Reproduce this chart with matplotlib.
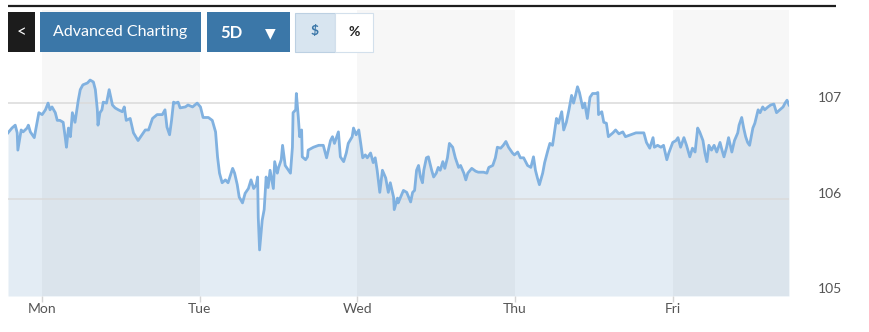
import matplotlib
matplotlib.use('Agg')
import matplotlib.pyplot as plt
from matplotlib.patches import Rectangle

plt.rcParams['font.family'] = ['Lato', 'DejaVu Sans']

# (hours since Monday 00:00, index value), one list per day
sun_mon = [(-5.2, 106.69), (-4.6, 106.74), (-4.1, 106.77), (-3.8, 106.69), (-3.7, 106.51),
           (-3.2, 106.72), (-2.9, 106.70), (-2.3, 106.74), (-2.1, 106.77), (-1.8, 106.70),
           (-1.2, 106.64), (-0.5, 106.90), (0.0, 106.88), (0.5, 106.93), (0.9, 107.00),
           (1.2, 106.93), (1.5, 106.96), (2.0, 106.90), (2.3, 106.82), (2.7, 106.82),
           (3.2, 106.80), (3.5, 106.65), (3.7, 106.54), (4.0, 106.74), (4.3, 106.65),
           (4.6, 106.90), (5.0, 106.80), (5.5, 107.03), (5.8, 107.14), (6.2, 107.19),
           (6.9, 107.21), (7.3, 107.24), (7.8, 107.22), (8.1, 107.14), (8.4, 106.93),
           (8.5, 106.77), (8.8, 106.90), (9.1, 106.93), (9.3, 107.01), (9.8, 107.00),
           (10.2, 107.14), (10.7, 106.98), (11.1, 106.95), (11.6, 106.93), (12.2, 106.91),
           (12.5, 106.96), (12.8, 106.82), (13.4, 106.84), (13.9, 106.69), (14.6, 106.61),
           (15.2, 106.67), (15.7, 106.72), (16.2, 106.72), (16.8, 106.84), (17.5, 106.88),
           (18.3, 106.88), (18.7, 106.93), (19.0, 106.75), (19.4, 106.67), (19.7, 106.82),
           (20.0, 107.01), (20.3, 107.00), (20.7, 107.01), (21.0, 106.95), (21.8, 106.96),
           (22.2, 106.98), (22.9, 106.96), (23.6, 107.00)]

tue = [(24.1, 106.96), (24.5, 106.85), (25.3, 106.85), (25.9, 106.82), (26.4, 106.70),
       (26.7, 106.44), (27.0, 106.27), (27.4, 106.17), (27.9, 106.20), (28.3, 106.17),
       (29.0, 106.32), (29.3, 106.27), (29.7, 106.15), (30.0, 106.02), (30.5, 105.96),
       (30.9, 106.06), (31.4, 106.11), (31.8, 106.20), (32.2, 106.11), (32.6, 106.15),
       (32.8, 106.23), (32.9, 105.81), (33.1, 105.47), (33.5, 105.78), (33.8, 105.89),
       (34.1, 106.23), (34.4, 106.12), (34.7, 106.30), (35.2, 106.11), (35.4, 106.39),
       (35.8, 106.27), (36.0, 106.33), (36.4, 106.41), (36.6, 106.56), (37.0, 106.35),
       (37.5, 106.30), (37.8, 106.27), (38.1, 106.54), (38.2, 106.90), (38.6, 106.93),
       (38.7, 107.10), (39.0, 106.85), (39.2, 106.65), (39.5, 106.72), (39.6, 106.44),
       (40.1, 106.41), (40.4, 106.44), (40.5, 106.51), (41.3, 106.54), (42.1, 106.56),
       (42.8, 106.56), (43.3, 106.43), (43.9, 106.61), (44.2, 106.65), (44.5, 106.58),
       (45.1, 106.70), (45.4, 106.44), (45.9, 106.39), (46.3, 106.48), (46.6, 106.58),
       (47.2, 106.65), (47.4, 106.74), (47.8, 106.67)]

wed = [(48.2, 106.72), (48.5, 106.58), (48.8, 106.43), (49.2, 106.46), (49.5, 106.43),
       (50.0, 106.48), (50.4, 106.38), (50.7, 106.43), (51.0, 106.30), (51.4, 106.07),
       (51.8, 106.30), (52.3, 106.22), (52.7, 106.07), (53.0, 106.17), (53.5, 106.02),
       (53.6, 105.89), (54.1, 106.01), (54.2, 105.96), (54.7, 106.04), (55.0, 106.09),
       (55.5, 106.07), (55.8, 106.02), (56.1, 105.97), (56.4, 106.07), (56.7, 106.09),
       (57.0, 106.30), (57.3, 106.35), (57.6, 106.23), (57.9, 106.17), (58.1, 106.30),
       (58.5, 106.43), (58.8, 106.44), (59.3, 106.30), (59.6, 106.23), (60.0, 106.27),
       (60.3, 106.33), (60.6, 106.30), (61.0, 106.39), (61.3, 106.32), (61.7, 106.43),
       (62.0, 106.58), (62.5, 106.54), (62.9, 106.43), (63.4, 106.33), (63.7, 106.35),
       (64.2, 106.27), (64.5, 106.20), (64.8, 106.27), (65.4, 106.32), (66.0, 106.29),
       (66.4, 106.28), (67.2, 106.28), (67.7, 106.27), (68.0, 106.33), (68.6, 106.35),
       (69.0, 106.43), (69.3, 106.54), (69.8, 106.53), (70.2, 106.56), (70.6, 106.60),
       (71.0, 106.54), (71.6, 106.48), (71.9, 106.46)]

thu = [(72.4, 106.49), (72.8, 106.43), (73.3, 106.43), (73.9, 106.35), (74.4, 106.33),
       (74.8, 106.44), (75.1, 106.30), (75.4, 106.22), (75.7, 106.15), (76.2, 106.27),
       (76.5, 106.38), (77.0, 106.51), (77.3, 106.58), (77.7, 106.56), (77.9, 106.65),
       (78.3, 106.84), (78.6, 106.79), (79.1, 106.91), (79.4, 106.72), (79.8, 106.80),
       (80.2, 106.93), (80.6, 107.08), (80.9, 107.00), (81.2, 107.08), (81.5, 107.17),
       (81.8, 107.11), (82.3, 106.95), (82.6, 107.00), (83.0, 106.84), (83.4, 107.06),
       (83.8, 107.10), (84.3, 107.10), (84.6, 107.11), (84.7, 106.88), (85.2, 106.91),
       (85.5, 106.80), (85.9, 106.79), (86.2, 106.65), (86.9, 106.69), (87.3, 106.72),
       (87.8, 106.68), (88.4, 106.70), (88.8, 106.65), (89.6, 106.67), (90.4, 106.69),
       (91.1, 106.69), (91.6, 106.69), (92.0, 106.59), (92.5, 106.53), (93.0, 106.64),
       (93.2, 106.54), (93.7, 106.56), (94.2, 106.54), (94.6, 106.56), (95.1, 106.41),
       (95.4, 106.48)]

fri = [(96.0, 106.59), (96.5, 106.61), (96.8, 106.64), (97.2, 106.54), (97.7, 106.64),
       (98.1, 106.56), (98.6, 106.44), (99.0, 106.53), (99.4, 106.49), (99.8, 106.74),
       (100.1, 106.70), (100.6, 106.61), (100.9, 106.48), (101.2, 106.39), (101.5, 106.56),
       (101.9, 106.51), (102.3, 106.56), (102.7, 106.49), (103.2, 106.59), (103.5, 106.51),
       (103.8, 106.44), (104.2, 106.54), (104.5, 106.64), (105.0, 106.49), (105.4, 106.61),
       (105.9, 106.69), (106.1, 106.77), (106.5, 106.85), (106.8, 106.74), (107.1, 106.65),
       (107.4, 106.59), (107.7, 106.56), (108.2, 106.74), (108.5, 106.79), (109.0, 106.93),
       (109.3, 106.90), (109.7, 106.96), (110.0, 106.93), (110.5, 106.96), (110.9, 106.98),
       (111.4, 106.99), (111.8, 106.90), (112.3, 106.93), (112.8, 106.96), (113.1, 107.00),
       (113.4, 107.03), (113.7, 106.98)]

day_labels = ['Mon', 'Tue', 'Wed', 'Thu', 'Fri']
day_starts = [0, 24, 48, 72, 96]
shaded_days = ['Mon', 'Wed', 'Fri']
y_ticks = [105, 106, 107]

points = sun_mon + tue + wed + thu + fri
hours = [p[0] for p in points]
dxy = [p[1] for p in points]

W, H = 870, 332
fig = plt.figure(figsize=(W / 100, H / 100), dpi=100)
ax = fig.add_axes([8 / W, 36 / H, 781 / W, 286 / H])

x0, x1 = hours[0], hours[-1]
y0, y1 = 104.99, 107.97
ax.set_xlim(x0, x1)
ax.set_ylim(y0, y1)

# area under the line
ax.fill_between(hours, dxy, y0, color='#e3ecf4', lw=0, zorder=1)

# alternate day shading
for lab in shaded_days:
    s = day_starts[day_labels.index(lab)]
    ax.axvspan(s, min(s + 24, x1), color='black', alpha=0.032, lw=0, zorder=2)

for v in y_ticks[1:]:
    ax.axhline(v, color='#dadada', lw=1.1, zorder=3)

ax.plot(hours, dxy, color='#80b1e0', lw=2.0, zorder=4, solid_joinstyle='round')

for s in ax.spines.values():
    s.set_visible(False)
ax.set_yticks([])
ax.set_xticks(day_starts)
ax.set_xticklabels(day_labels)
ax.tick_params(axis='x', length=4, width=1, color='#d5d5d5', labelcolor='#555555',
               labelsize=10, pad=1)

for v in y_ticks:
    ax.annotate(str(v), xy=(1, v), xycoords=('axes fraction', 'data'),
                xytext=(21, 4), textcoords='offset points',
                ha='left', va='center', fontsize=10, color='#555555')

# toolbar on top, drawn in pixel units
ui = fig.add_axes([0, 0, 1, 1])
ui.set_xlim(0, W)
ui.set_ylim(H, 0)
ui.axis('off')
ui.set_zorder(10)

ui.plot([8, 836], [6, 6], color='#1e1e1e', lw=1.6, solid_capstyle='butt')

blue = '#3b77a8'
ui.add_patch(Rectangle((8, 12), 27, 40, color='#1c1c1c', lw=0))
ui.text(21.5, 32, '<', color='white', fontsize=12, ha='center', va='center')

ui.add_patch(Rectangle((40, 12), 161, 40, color=blue, lw=0))
ui.text(120.5, 32, 'Advanced Charting', color='white', fontsize=11.5, ha='center', va='center')

ui.add_patch(Rectangle((207, 12), 83, 40, color=blue, lw=0))
ui.text(231, 32.5, '5D', color='white', fontsize=12, fontweight='bold', ha='center', va='center')
ui.text(270, 33, '▼', color='white', fontsize=10, ha='center', va='center',
        family=['DejaVu Sans'])

ui.add_patch(Rectangle((295, 12.5), 40, 39, facecolor='#d8e5f0', edgecolor='#bcd0e2', lw=0.8))
ui.text(315, 31.5, '$', color=blue, fontsize=10, fontweight='bold', ha='center', va='center')
ui.add_patch(Rectangle((335, 12.5), 38, 39, facecolor='white', edgecolor='#d3e0ec', lw=0.8))
ui.text(354, 31.5, '%', color='#222222', fontsize=10, fontweight='bold', ha='center', va='center')

fig.savefig('out.png', dpi=100)
